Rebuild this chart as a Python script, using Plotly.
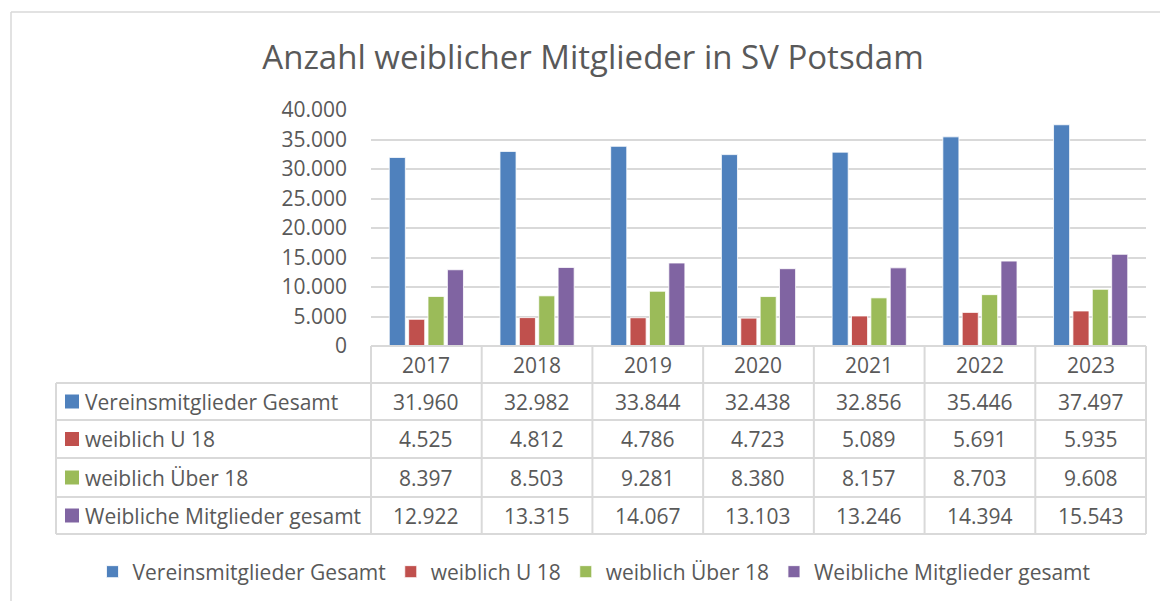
import plotly.graph_objects as go

years = ["2017", "2018", "2019", "2020", "2021", "2022", "2023"]
series_names = ["Vereinsmitglieder Gesamt", "weiblich U 18", "weiblich Über 18", "Weibliche Mitglieder gesamt"]
gesamt = [31960, 32982, 33844, 32438, 32856, 35446, 37497]
u18 = [4525, 4812, 4786, 4723, 5089, 5691, 5935]
ueber18 = [8397, 8503, 9281, 8380, 8157, 8703, 9608]
weiblich_gesamt = [12922, 13315, 14067, 13103, 13246, 14394, 15543]
y_ticks = [0, 5000, 10000, 15000, 20000, 25000, 30000, 35000, 40000]
title = "Anzahl weiblicher Mitglieder in SV Potsdam"

series_values = [gesamt, u18, ueber18, weiblich_gesamt]
colors = ["#4F81BD", "#C0504D", "#9BBB59", "#8064A2"]

W, H = 1168, 601
OFF = 8  # page body margin offset
FONT = "Open Sans"
FS = 21
TXT = "#595959"
GRID = "#D9D9D9"

def px(x):
    return (x - OFF) / W

def py(y):
    return 1 - (y - OFF) / H

fig = go.Figure()
for name, vals, col in zip(series_names, series_values, colors):
    fig.add_trace(go.Bar(x=years, y=vals, name=name,
                         marker=dict(color=col, line=dict(color="white", width=0.8))))

# table geometry
col_left = 371
col_right = 1146
tbl_left = 56
hdr_top = 346
row_lines = [383, 420, 458, 497, 534]
ncol = len(years)
cw = (col_right - col_left) / ncol

shapes = []
annotations = []
line = dict(color=GRID, width=2)

# outer chart border (top and left)
shapes.append(dict(type="line", xref="paper", yref="paper", x0=px(11), x1=px(W + 20), y0=py(12), y1=py(12), line=dict(color=GRID, width=1.5)))
shapes.append(dict(type="line", xref="paper", yref="paper", x0=px(11), x1=px(11), y0=py(12), y1=py(H + 20), line=dict(color=GRID, width=1.5)))

# header top line
shapes.append(dict(type="line", xref="paper", yref="paper", x0=px(col_left), x1=px(col_right), y0=py(hdr_top), y1=py(hdr_top), line=line))
# horizontal row lines
for yl in row_lines:
    shapes.append(dict(type="line", xref="paper", yref="paper", x0=px(tbl_left), x1=px(col_right), y0=py(yl), y1=py(yl), line=line))
# vertical lines
shapes.append(dict(type="line", xref="paper", yref="paper", x0=px(tbl_left), x1=px(tbl_left), y0=py(row_lines[0]), y1=py(row_lines[-1]), line=line))
for i in range(ncol + 1):
    xv = col_left + i * cw
    shapes.append(dict(type="line", xref="paper", yref="paper", x0=px(xv), x1=px(xv), y0=py(hdr_top), y1=py(row_lines[-1]), line=line))

# header labels
for i, yr in enumerate(years):
    annotations.append(dict(x=px(col_left + (i + 0.5) * cw), y=py((hdr_top + row_lines[0]) / 2), xref="paper", yref="paper",
                            text=yr, showarrow=False, font=dict(family=FONT, size=FS, color=TXT), xanchor="center", yanchor="middle"))

def fmt(v):
    return f"{v:,}".replace(",", ".")

for r, (name, vals, col) in enumerate(zip(series_names, series_values, colors)):
    ytop, ybot = row_lines[r], row_lines[r + 1]
    yc = (ytop + ybot) / 2
    shapes.append(dict(type="rect", xref="paper", yref="paper", x0=px(65), x1=px(79), y0=py(yc - 7), y1=py(yc + 7),
                       fillcolor=col, line=dict(width=0)))
    annotations.append(dict(x=px(83), y=py(yc), xref="paper", yref="paper", text=name, showarrow=False,
                            font=dict(family=FONT, size=FS, color=TXT), xanchor="left", yanchor="middle"))
    for i, v in enumerate(vals):
        annotations.append(dict(x=px(col_left + (i + 0.5) * cw), y=py(yc), xref="paper", yref="paper", text=fmt(v),
                                showarrow=False, font=dict(family=FONT, size=FS, color=TXT), xanchor="center", yanchor="middle"))

fig.update_layout(
    width=W, height=H,
    autosize=False,
    margin=dict(l=0, r=0, t=0, b=0, pad=0, autoexpand=False),
    paper_bgcolor="white", plot_bgcolor="white",
    separators=",.",
    title=dict(text=title, x=px(593), xanchor="center", y=py(57), yanchor="middle",
               font=dict(family=FONT, size=33, color=TXT)),
    barmode="group", bargap=0.3, bargroupgap=0.17,
    xaxis=dict(domain=[px(col_left), px(col_right)], showticklabels=False, showline=False, showgrid=False,
               zeroline=False, ticks="", automargin=False),
    yaxis=dict(domain=[py(hdr_top), py(110)], range=[0, 40000], tickvals=y_ticks, tickformat=",d",
               showgrid=True, gridcolor=GRID, gridwidth=2, zeroline=False, showline=False,
               tickfont=dict(family=FONT, size=FS, color=TXT), ticks="", ticklen=0, automargin=False,
               ticklabelstandoff=23),
    legend=dict(orientation="h", x=px(594), xanchor="center", y=py(572), yanchor="middle",
                font=dict(family=FONT, size=FS, color=TXT), itemwidth=30, tracegroupgap=0),
    shapes=shapes, annotations=annotations,
    showlegend=True,
)

fig.write_html("out.html")
